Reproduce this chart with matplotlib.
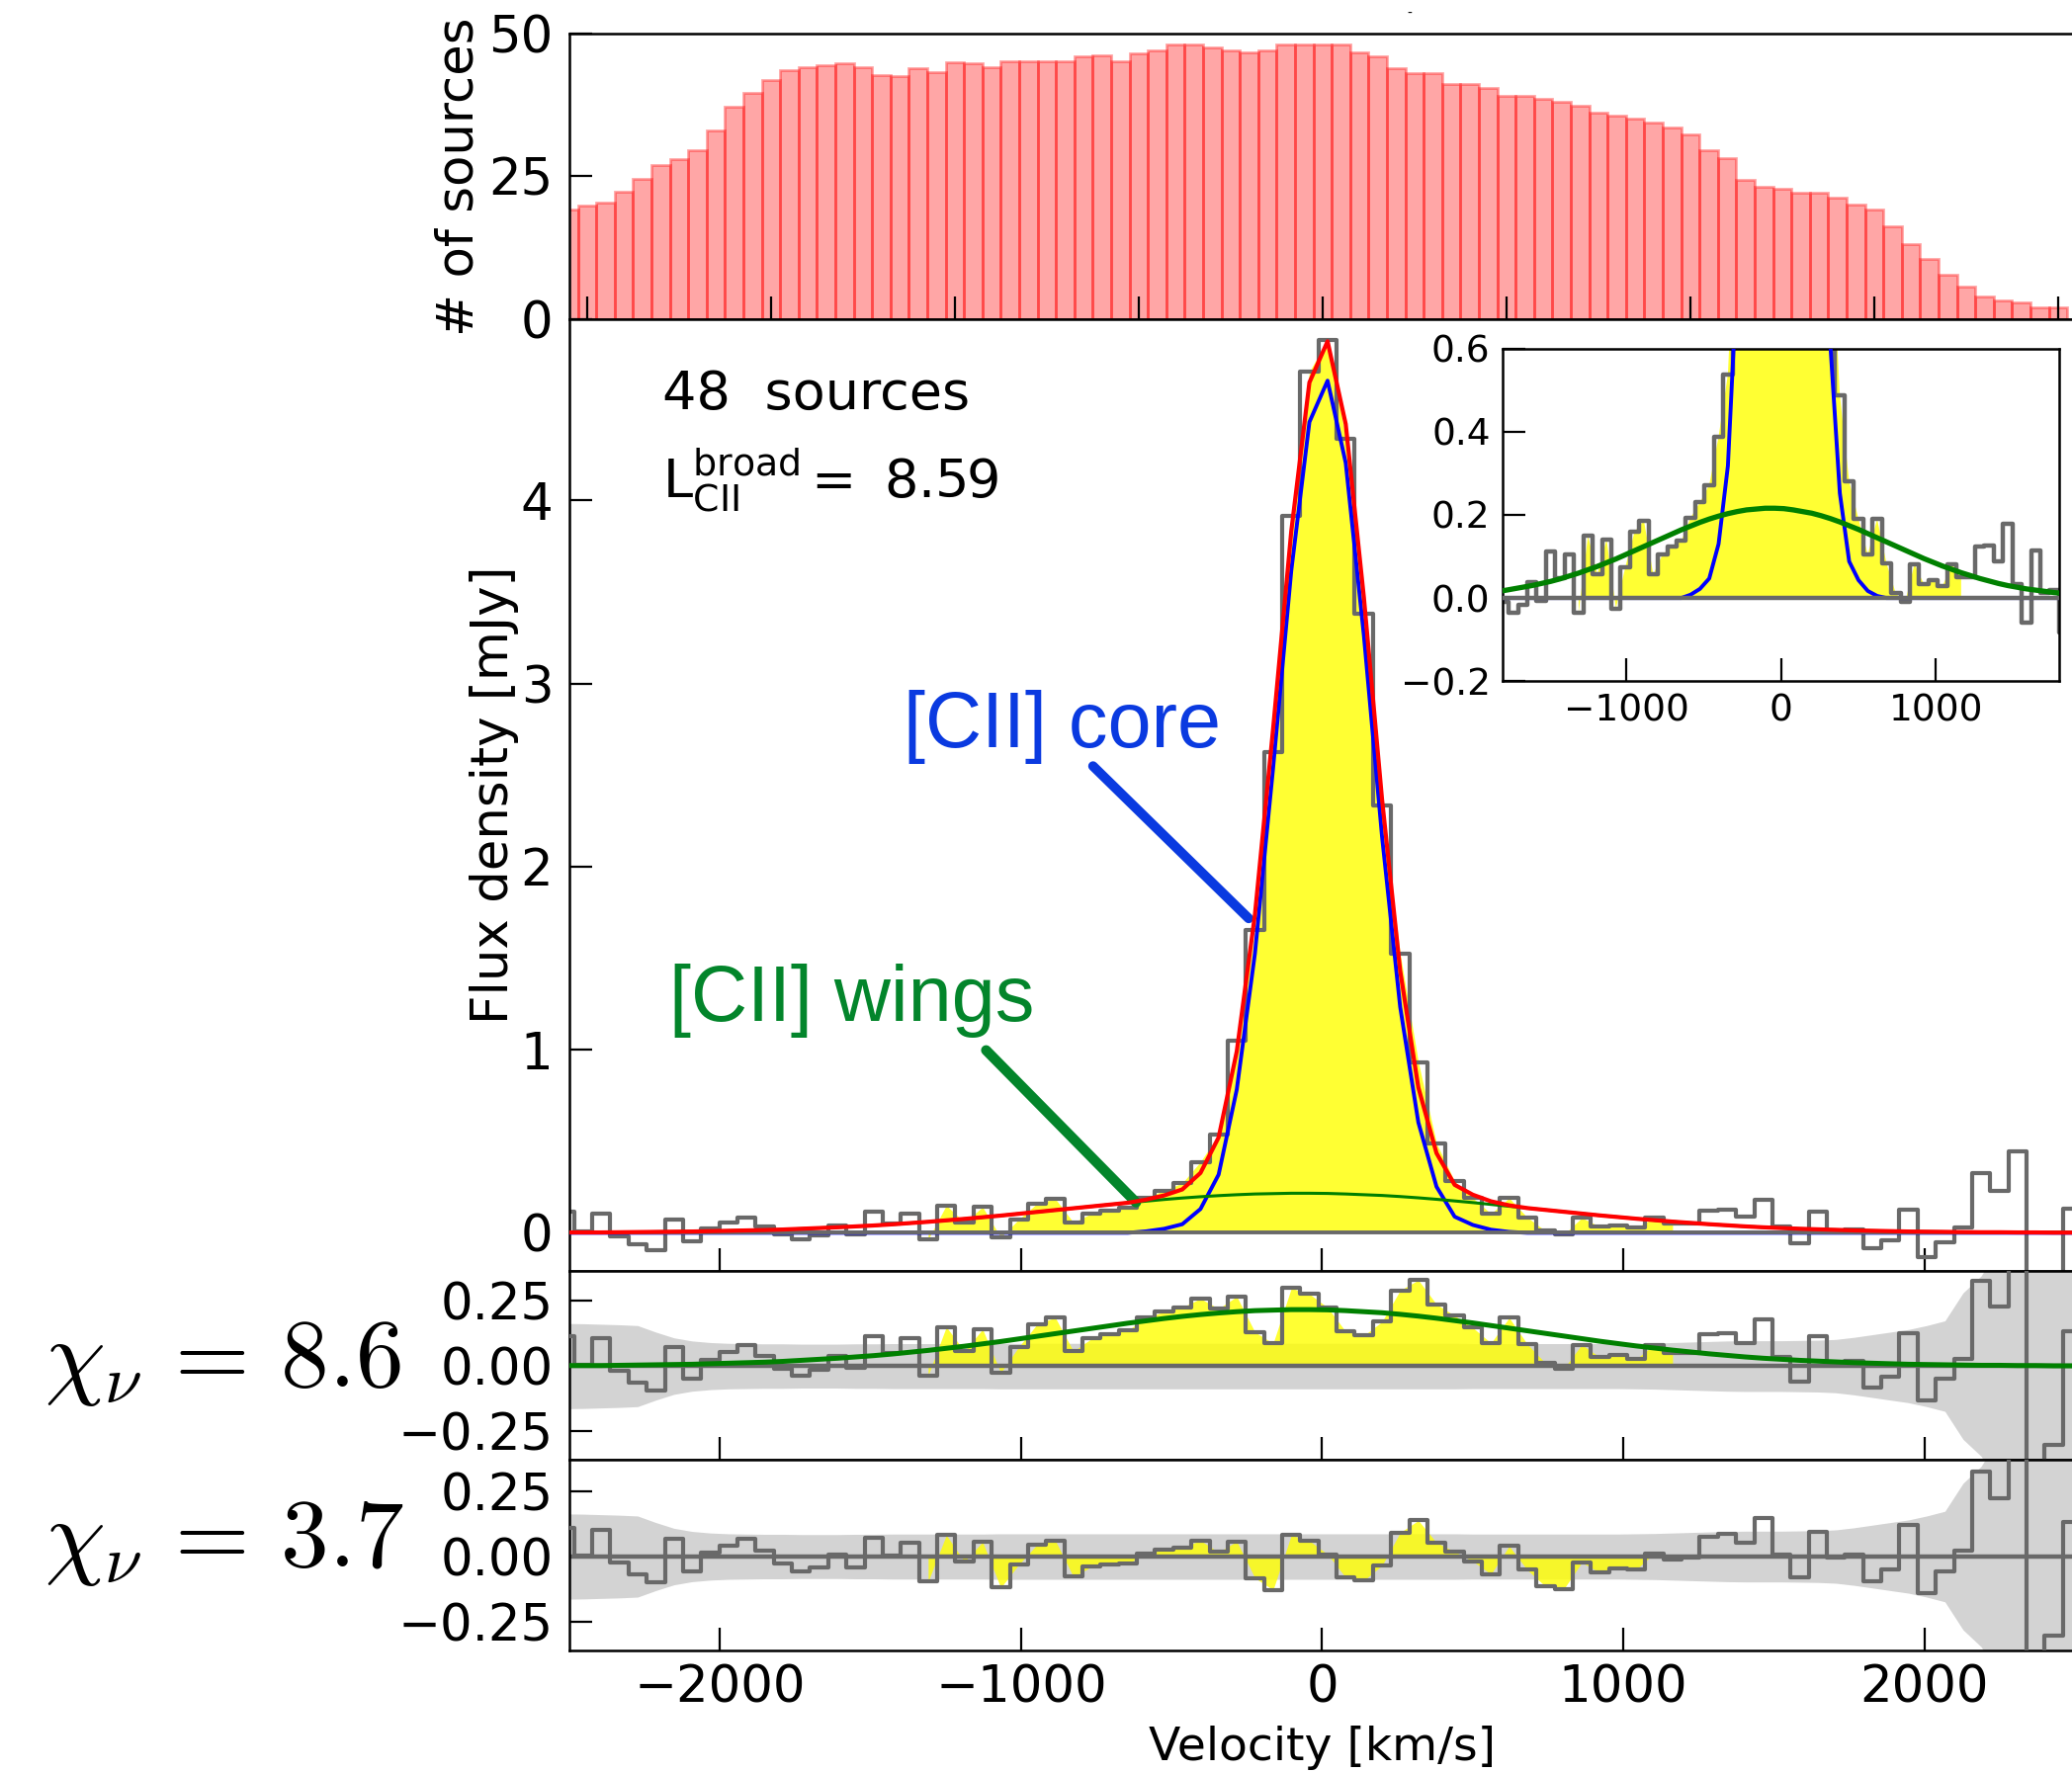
import numpy as np
import matplotlib.pyplot as plt

plt.rcParams['font.family'] = ['DejaVu Sans']
plt.rcParams['axes.linewidth'] = 0.9
plt.rcParams['xtick.direction'] = 'in'
plt.rcParams['ytick.direction'] = 'in'
plt.rcParams['xtick.major.size'] = 8.3
plt.rcParams['ytick.major.size'] = 8.3
plt.rcParams['xtick.major.width'] = 0.8
plt.rcParams['ytick.major.width'] = 0.8
plt.rcParams['xtick.major.pad'] = 5
plt.rcParams['ytick.major.pad'] = 6
plt.rcParams['xtick.labelsize'] = 18.5
plt.rcParams['ytick.labelsize'] = 18.5

# velocity channels of the stacked spectrum (km/s)
vel = 18 + 60.3 * np.arange(-42, 42)

# stacked flux density per channel (mJy)
flux = [0.113, 0.005, 0.105, -0.019, -0.063, -0.094, 0.074, -0.048, 0.023, 0.054,
        0.082, 0.037, -0.009, -0.035, -0.016, 0.039, -0.006, 0.113, 0.049, 0.105,
        -0.035, 0.150, 0.057, 0.141, -0.025, 0.074, 0.160, 0.186, 0.057, 0.105,
        0.123, 0.137, 0.193, 0.230, 0.272, 0.388, 0.538, 1.049, 1.656, 2.625,
        3.913, 4.704, 4.878, 4.337, 3.379, 2.334, 1.523, 0.932, 0.488, 0.281,
        0.190, 0.105, 0.190, 0.084, 0.011, -0.010, 0.082, 0.034, 0.042, 0.028,
        0.082, 0.050, 0.050, 0.123, 0.126, 0.088, 0.179, 0.034, -0.059, 0.115,
        0.011, 0.019, -0.084, -0.039, 0.126, -0.132, -0.050, 0.028, 0.327, 0.227,
        0.447, -2.000, -0.302, 0.132]

# [CII] core component at the channels
core = [0.0] * 32 + [0.008, 0.022, 0.047, 0.130, 0.318, 0.783, 1.526, 2.538, 3.615, 4.428,
                     4.654, 4.205, 3.262, 2.164, 1.233, 0.603, 0.252, 0.088, 0.043, 0.017,
                     0.005] + [0.0] * 31

# [CII] wings (broad) component at the channels
wings = [0.002, 0.002, 0.002, 0.003, 0.004, 0.005, 0.006, 0.007, 0.009, 0.011,
         0.013, 0.015, 0.018, 0.022, 0.026, 0.030, 0.035, 0.040, 0.046, 0.053,
         0.060, 0.068, 0.076, 0.085, 0.094, 0.104, 0.114, 0.124, 0.134, 0.144,
         0.154, 0.164, 0.173, 0.182, 0.190, 0.197, 0.203, 0.208, 0.212, 0.214,
         0.216, 0.216, 0.215, 0.212, 0.208, 0.204, 0.198, 0.191, 0.183, 0.174,
         0.165, 0.155, 0.145, 0.135, 0.125, 0.115, 0.105, 0.095, 0.086, 0.077,
         0.069, 0.061, 0.054, 0.047, 0.041, 0.035, 0.030, 0.026, 0.022, 0.019,
         0.016, 0.013, 0.011, 0.009, 0.007, 0.006, 0.005, 0.004, 0.003, 0.003,
         0.002, 0.002, 0.001, 0.001]

# 1 sigma noise of the stack
noise = [0.163, 0.162, 0.160, 0.158, 0.155, 0.130, 0.108, 0.096, 0.090, 0.087,
         0.086, 0.085, 0.085, 0.084, 0.084, 0.084, 0.085, 0.085, 0.086, 0.086,
         0.086, 0.086, 0.086, 0.086, 0.087, 0.087, 0.087, 0.087, 0.087, 0.087,
         0.087, 0.087, 0.087, 0.087, 0.087, 0.087, 0.087, 0.087, 0.087, 0.087,
         0.087, 0.087, 0.087, 0.087, 0.087, 0.087, 0.087, 0.087, 0.087, 0.087,
         0.086, 0.086, 0.086, 0.086, 0.086, 0.086, 0.086, 0.086, 0.086, 0.087,
         0.088, 0.090, 0.092, 0.094, 0.096, 0.097, 0.097, 0.097, 0.098, 0.099,
         0.102, 0.110, 0.120, 0.130, 0.140, 0.155, 0.173, 0.280, 0.345, 0.460,
         0.620, 0.800, 0.950, 1.000]

# number of sources contributing per bin
hist_centers = -2050 + 50 * np.arange(82)
hist_counts = [19.2, 19.9, 20.4, 22.3, 24.6, 27.0, 28.0, 29.6, 33.0, 37.2,
               39.6, 41.9, 43.5, 44.1, 44.5, 44.8, 44.1, 42.8, 42.5, 44.0,
               43.3, 45.0, 44.8, 44.1, 45.1, 45.2, 45.2, 45.2, 46.0, 46.1,
               45.2, 46.5, 47.1, 48.0, 48.0, 47.6, 47.1, 46.7, 47.1, 48.0,
               48.0, 48.0, 48.0, 46.7, 46.0, 44.0, 43.1, 43.1, 41.1, 41.1,
               40.5, 39.0, 39.0, 38.6, 38.1, 37.4, 36.1, 35.6, 35.1, 34.5,
               33.5, 32.3, 29.5, 28.1, 24.3, 23.1, 22.9, 22.1, 22.1, 21.3,
               20.1, 19.2, 16.3, 13.1, 10.6, 7.8, 5.7, 4.0, 3.2, 2.9,
               2.1, 2.1]

flux = np.array(flux)
core = np.array(core)
wings = np.array(wings)
noise = np.array(noise)
model = core + wings
resid_core = flux - core
resid_all = flux - model
mask = (vel > -1340) & (vel < 1190)

GRAY = 'dimgray'
YELLOW = 'yellow'
CORE_C = '#0a3ae0'
WING_C = '#03852b'

fig = plt.figure(figsize=(10.48, 8.97), dpi=200)
ax_h = fig.add_axes([0.2748, 0.8200, 0.7266, 0.1611])
ax_m = fig.add_axes([0.2748, 0.2832, 0.7266, 0.5368])
ax_r1 = fig.add_axes([0.2748, 0.1767, 0.7266, 0.1065])
ax_r2 = fig.add_axes([0.2748, 0.0691, 0.7266, 0.1076])
ax_in = fig.add_axes([0.7252, 0.6158, 0.2688, 0.1876])

# histogram of sources
ax_h.bar(hist_centers, hist_counts, width=50, color=(1, 0, 0, 0.35),
         edgecolor=(1, 0, 0, 0.35), linewidth=1.0)
ax_h.set_xlim(-2048, 2046)
ax_h.set_ylim(0, 50)
ax_h.set_yticks([0, 25, 50])
ax_h.set_xticks(np.arange(-2000, 2001, 500))
ax_h.tick_params(labelbottom=False)
ax_h.set_ylabel('# of sources', fontsize=18.5)
ax_h.yaxis.set_label_coords(-0.057, 0.5)

# main spectrum
ax_m.fill_between(vel, 0, flux, where=mask, color=YELLOW, alpha=0.8, lw=0, zorder=1)
ax_m.plot(vel, flux, drawstyle='steps-mid', color=GRAY, lw=1.5, zorder=2)
ax_m.plot(vel, core, color='blue', lw=1.4, zorder=3)
ax_m.axhline(0, color=GRAY, lw=1.4, zorder=3.5)
ax_m.plot(vel, wings, color='green', lw=1.1, zorder=4)
ax_m.plot(vel, model, color='red', lw=1.5, zorder=5)
ax_m.set_xlim(-2500, 2500)
ax_m.set_ylim(-0.208, 4.99)
ax_m.set_yticks([0, 1, 2, 3, 4])
ax_m.set_xticks([-2000, -1000, 0, 1000, 2000])
ax_m.tick_params(labelbottom=False)
ax_m.set_ylabel('Flux density [mJy]', fontsize=18.5)
ax_m.yaxis.set_label_coords(-0.0335, 0.5)

ax_m.text(0.0617, 0.9055, '48  sources', transform=ax_m.transAxes, fontsize=19.5,
          va='baseline')
ax_m.text(0.0617, 0.812, 'L$_{\\rm CII}^{\\rm broad}\\,$=\u2009 8.59',
          transform=ax_m.transAxes, fontsize=19.5, va='baseline')

ax_m.text(-1390, 2.652, '[CII] core', color=CORE_C, fontsize=28.5,
          family=['Liberation Sans'], va='baseline')
ax_m.annotate('', xy=(-244, 1.717), xytext=(-761, 2.549),
              arrowprops=dict(arrowstyle='-', color=CORE_C, lw=3.5,
                              shrinkA=0, shrinkB=0))
ax_m.text(-2168, 1.157, '[CII] wings', color=WING_C, fontsize=28.5,
          family=['Liberation Sans'], va='baseline')
ax_m.annotate('', xy=(-618, 0.166), xytext=(-1116, 0.997),
              arrowprops=dict(arrowstyle='-', color=WING_C, lw=3.7,
                              shrinkA=0, shrinkB=0))

# zoomed inset
ax_in.fill_between(vel, 0, flux, where=mask, color=YELLOW, alpha=0.8, lw=0, zorder=1)
ax_in.plot(vel, flux, drawstyle='steps-mid', color=GRAY, lw=1.6, zorder=2)
ax_in.plot(vel, core, color='blue', lw=1.4, zorder=3)
ax_in.axhline(0, color=GRAY, lw=1.6, zorder=4)
ax_in.plot(vel, wings, color='green', lw=1.9, zorder=5)
ax_in.set_xlim(-1800, 1800)
ax_in.set_ylim(-0.2, 0.6)
ax_in.set_xticks([-1000, 0, 1000])
ax_in.set_yticks([-0.2, 0.0, 0.2, 0.4, 0.6])
ax_in.tick_params(labelsize=13.5, pad=4.5)

# residual panels
for ax, res, show_wings in [(ax_r1, resid_core, True), (ax_r2, resid_all, False)]:
    ax.fill_between(vel, -noise, noise, color='lightgray', lw=0, zorder=0)
    ax.fill_between(vel, 0, res, where=mask, color=YELLOW, alpha=0.8, lw=0, zorder=1)
    ax.axhline(0, color=GRAY, lw=1.6, zorder=2)
    ax.plot(vel, res, drawstyle='steps-mid', color=GRAY, lw=1.5, zorder=3)
    if show_wings:
        ax.plot(vel, wings, color='green', lw=1.8, zorder=4)
    ax.set_xlim(-2500, 2500)
    ax.set_yticks([-0.25, 0.0, 0.25])
    ax.set_xticks([-2000, -1000, 0, 1000, 2000])

ax_r1.set_ylim(-0.358, 0.364)
ax_r2.set_ylim(-0.359, 0.370)
ax_r1.tick_params(labelbottom=False)
ax_r2.set_xlabel('Velocity [km/s]', fontsize=17)
ax_r2.xaxis.set_label_coords(0.5, -0.392)

fig.text(0.0215, 0.2178, r'$\chi_\nu \,=\, 8.6$', fontsize=35, math_fontfamily='cm',
         va='baseline')
fig.text(0.0215, 0.1165, r'$\chi_\nu \,=\, 3.7$', fontsize=35, math_fontfamily='cm',
         va='baseline')
fig.text(0.6804, 0.9922, '-', fontsize=5, ha='center', va='center')

fig.savefig('out.png', dpi=200)
